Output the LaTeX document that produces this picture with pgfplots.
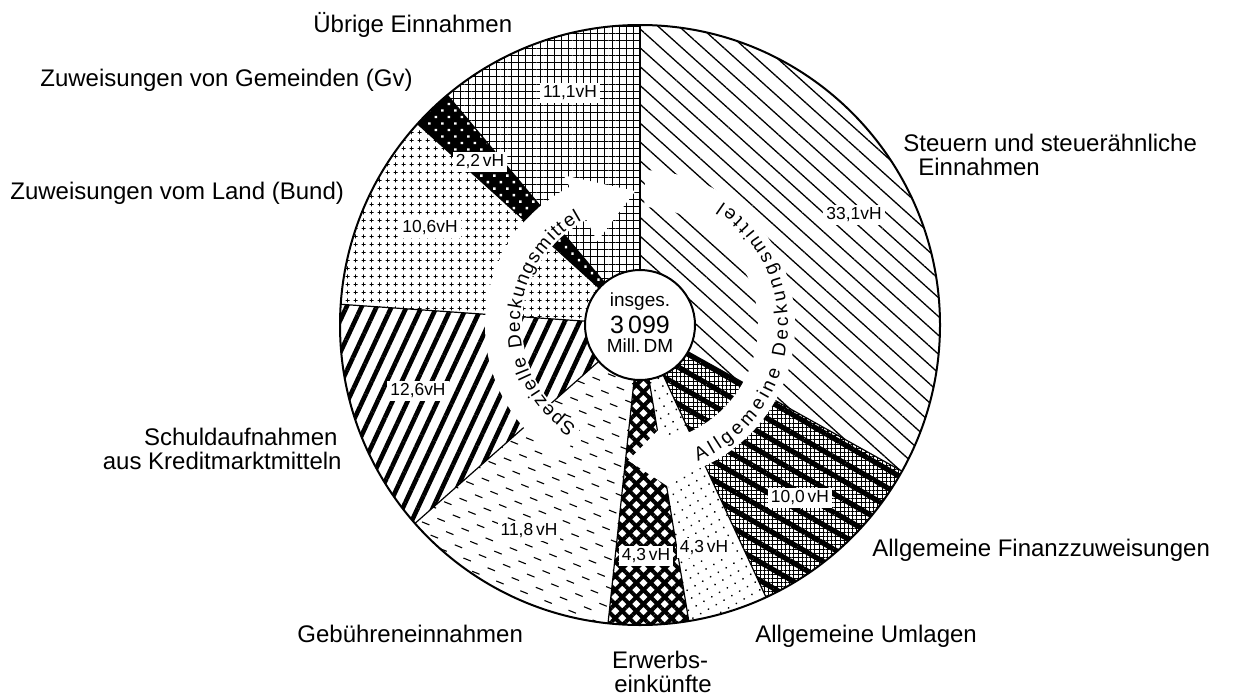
\documentclass[border=0pt]{standalone}
\usepackage{fontspec}
\setmainfont{Liberation Sans}
\usepackage{pgfplots}
\pgfplotsset{compat=1.18}
\usepackage{pgfplotstable}
\usetikzlibrary{patterns.meta,decorations.text}

% shares in vH, clockwise from 12 o'clock
\pgfplotstableread{
value
33.1
10.0
4.3
4.3
11.8
12.6
10.6
2.2
11.1
}\piedata

\def\cumsum{0}\def\rowidx{0}
\pgfplotsforeachungrouped \n in {A,B,C,D,E,F,G,H,I}{%
  \pgfplotstablegetelem{\rowidx}{value}\of\piedata
  \let\curval\pgfplotsretval
  \pgfmathsetmacro\tmpS{90-3.6*\cumsum}%
  \pgfmathsetmacro\tmpC{\cumsum+\curval}%
  \pgfmathsetmacro\tmpE{90-3.6*\tmpC}%
  \expandafter\xdef\csname angs\n\endcsname{\tmpS}%
  \expandafter\xdef\csname ange\n\endcsname{\tmpE}%
  \xdef\cumsum{\tmpC}%
  \pgfmathtruncatemacro\tmpI{\rowidx+1}%
  \xdef\rowidx{\tmpI}%
}

\newcommand\sector[2]{%
  \edef\tmpa{\csname angs#1\endcsname}\edef\tmpb{\csname ange#1\endcsname}%
  \edef\tmp{\noexpand\fill[\unexpanded{#2}] (0pt,0pt) -- (\tmpa:150pt) arc[start angle=\tmpa, end angle=\tmpb, radius=150pt] -- cycle;}\tmp}
\newcommand\spoke[1]{%
  \edef\tmpa{\csname angs#1\endcsname}%
  \edef\tmp{\noexpand\draw[line width=0.6pt] (0pt,0pt) -- (\tmpa:150pt);}\tmp}

\tikzdeclarepattern{
  name=dashlines, type=uncolored,
  bounding box={(-0.5pt,-0.5pt) and (13.5pt,9.5pt)},
  tile size={(13pt,9pt)},
  tile transformation={rotate=-22},
  code={\draw[line width=0.55pt] (0.5pt,2.25pt) -- (4.5pt,2.25pt) (7pt,6.75pt) -- (11pt,6.75pt);}
}
\tikzdeclarepattern{
  name=plusgrid, type=uncolored,
  bounding box={(0pt,0pt) and (4pt,4pt)},
  tile size={(4pt,4pt)},
  code={\draw[line width=0.4pt] (0.9pt,2pt) -- (3.1pt,2pt) (2pt,0.9pt) -- (2pt,3.1pt);}
}

\newcommand\lab{\fontsize{12}{14}\selectfont}
\newcommand\vh{\fontsize{8.7}{10}\selectfont}

\begin{document}
\begin{tikzpicture}
\begin{axis}[
  width=623.5pt, height=348pt, scale only axis,
  xmin=0, xmax=1247, ymin=0, ymax=696, y dir=reverse,
  hide axis, clip=false,
]
\path (axis cs:0,0) rectangle (axis cs:1247,696);
\begin{scope}[shift={(axis cs:640,325)}]
  % slices
  \sector{A}{pattern={Lines[angle=-42,distance=7pt,line width=0.65pt]}}
  \sector{B}{pattern={Hatch[angle=0,distance=2.1pt,line width=0.35pt]}}
  \sector{B}{pattern={Lines[angle=-30,distance=8pt,line width=2.6pt]}}
  \sector{C}{pattern={Dots[angle=30,distance=4.5pt,radius=0.5pt]}}
  \sector{D}{pattern={Hatch[angle=45,distance=5pt,line width=2pt]}}
  \sector{E}{pattern=dashlines}
  \sector{F}{pattern={Lines[angle=65,distance=6.8pt,line width=2.3pt]}}
  \sector{G}{pattern=plusgrid}
  \sector{H}{black}
  \sector{H}{pattern={Dots[angle=45,distance=4.6pt,radius=0.85pt]},pattern color=white}
  \sector{I}{pattern={Hatch[angle=0,distance=3.6pt,line width=0.4pt]}}
  \spoke{A}\spoke{B}\spoke{C}\spoke{D}\spoke{E}\spoke{F}\spoke{G}\spoke{H}\spoke{I}
  \draw[line width=1pt] (0pt,0pt) circle[radius=150pt];
  % white arrow bands
  \fill[white] (88:59pt) arc[start angle=88,end angle=-78,radius=59pt]
     -- (-78:52pt) -- (-95:68pt) -- (-78:85pt) -- (-78:77.5pt)
     arc[start angle=-78,end angle=88,radius=77.5pt] -- cycle;
  \fill[white] (240:59pt) arc[start angle=240,end angle=117,radius=59pt]
     -- (117:47pt) -- (92:67pt) -- (117:84pt) -- (117:77.5pt)
     arc[start angle=117,end angle=240,radius=77.5pt] -- cycle;
  \path[decorate, decoration={text along path, text format delimiters={|}{|},
     text={|\fontsize{9.5}{9}\selectfont|Allgemeine Deckungsmittel}, text align={fit to path}}]
     (-67:74pt) arc[start angle=-67, end angle=56, radius=74pt];
  \path[decorate, decoration={text along path, text format delimiters={|}{|},
     text={|\fontsize{9.5}{9}\selectfont|Spezielle Deckungsmittel}, text align={fit to path}}]
     (238:60pt) arc[start angle=238, end angle=119, radius=60pt];
  % centre
  \draw[line width=1pt, fill=white] (0pt,0pt) circle[radius=27.5pt];
\end{scope}
% centre text
\node[inner sep=0] at (axis cs:640,302) {\fontsize{9.5}{10}\selectfont insges.};
\node[inner sep=0] at (axis cs:640,325) {\fontsize{12.5}{13}\selectfont 3\,099};
\node[inner sep=0] at (axis cs:640,346) {\fontsize{9.5}{10}\selectfont Mill.\,DM};
% value labels
\tikzset{vhl/.style={fill=white, inner sep=1.5pt}}
\node[vhl] at (axis cs:854,215) {\vh 33,1vH};
\node[vhl] at (axis cs:800,498) {\vh 10,0\,vH};
\node[vhl] at (axis cs:704,548) {\vh 4,3\,vH};
\node[vhl] at (axis cs:646,556) {\vh 4,3\,vH};
\node[vhl] at (axis cs:529,531) {\vh 11,8\,vH};
\node[vhl] at (axis cs:418,391) {\vh 12,6vH};
\node[vhl] at (axis cs:430,228) {\vh 10,6vH};
\node[vhl] at (axis cs:480,162) {\vh 2,2\,vH};
\node[vhl] at (axis cs:570,93) {\vh 11,1vH};
% category labels
\node[anchor=west, inner sep=0] at (axis cs:313,25) {\lab Übrige Einnahmen};
\node[anchor=east, inner sep=0] at (axis cs:413,80) {\lab Zuweisungen von Gemeinden (Gv)};
\node[anchor=west, inner sep=0] at (axis cs:10,193) {\lab Zuweisungen vom Land (Bund)};
\node[anchor=west, inner sep=0] at (axis cs:903,143) {\lab Steuern und steuerähnliche};
\node[anchor=west, inner sep=0] at (axis cs:918,167) {\lab Einnahmen};
\node[anchor=east, inner sep=0] at (axis cs:338,437) {\lab Schuldaufnahmen};
\node[anchor=east, inner sep=0] at (axis cs:342,461) {\lab aus Kreditmarktmitteln};
\node[anchor=west, inner sep=0] at (axis cs:297,634) {\lab Gebühreneinnahmen};
\node[inner sep=0] at (axis cs:660,660) {\lab Erwerbs-};
\node[inner sep=0] at (axis cs:663,684) {\lab einkünfte};
\node[anchor=west, inner sep=0] at (axis cs:755,636) {\lab Allgemeine Umlagen};
\node[anchor=west, inner sep=0] at (axis cs:872,550) {\lab Allgemeine Finanzzuweisungen};
\end{axis}
\end{tikzpicture}
\end{document}
